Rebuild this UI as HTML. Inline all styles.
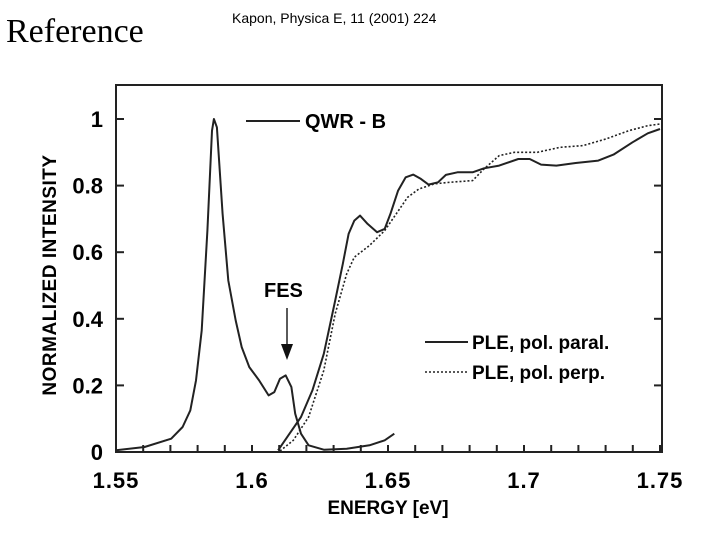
<!DOCTYPE html>
<html><head><meta charset="utf-8"><style>
body{margin:0;background:#fff;width:720px;height:540px;overflow:hidden}
</style></head><body>
<svg width="720" height="540" viewBox="0 0 720 540" xmlns="http://www.w3.org/2000/svg" font-family="Liberation Sans, sans-serif">
<text x="6" y="42" font-family="Liberation Serif, serif" font-size="34">Reference</text>
<text x="232" y="23" font-size="14">Kapon, Physica E, 11 (2001) 224</text>
<rect x="116" y="85" width="546" height="367" fill="none" stroke="#222" stroke-width="2"/>
<g id="ticks"></g>
<g id="series"></g>
<g><line x1="246" y1="121" x2="300" y2="121" stroke="#222" stroke-width="2"/><text x="305" y="128" font-size="20" font-weight="bold">QWR - B</text></g>
<g><text x="264" y="297" font-size="20" font-weight="bold">FES</text><line x1="287" y1="308" x2="287" y2="348" stroke="#222" stroke-width="1.5"/><polygon points="281,344 293,344 287,360" fill="#111"/></g>
<g><line x1="425" y1="342" x2="468" y2="342" stroke="#222" stroke-width="2"/><text x="472" y="349" font-size="19" font-weight="bold">PLE, pol. paral.</text></g>
<g><line x1="425" y1="372" x2="468" y2="372" stroke="#222" stroke-width="1.5" stroke-dasharray="2,2"/><text x="472" y="379" font-size="19" font-weight="bold">PLE, pol. perp.</text></g>
<text transform="translate(56,275) rotate(-90)" text-anchor="middle" font-size="19" font-weight="bold" letter-spacing="0.5">NORMALIZED INTENSITY</text>
<text x="388" y="514" text-anchor="middle" font-size="19" font-weight="bold">ENERGY [eV]</text>
<script>
const xTicks=[1.55,1.6,1.65,1.7,1.75];
const yTicks=[0,0.2,0.4,0.6,0.8,1];
const qwrE=[1.55,1.5605,1.5703,1.5745,1.5773,1.5794,1.5815,1.5836,1.5853,1.586,1.5871,1.5892,1.5913,1.594,1.5962,1.599,1.6026,1.6061,1.6082,1.6103,1.6124,1.6145,1.6159,1.618,1.6208,1.6264,1.6348,1.6432,1.6488,1.6523];
const qwrI=[0.005,0.015,0.04,0.075,0.125,0.215,0.365,0.665,0.965,1.0,0.975,0.715,0.515,0.395,0.315,0.255,0.215,0.17,0.18,0.22,0.23,0.195,0.115,0.055,0.02,0.007,0.01,0.02,0.035,0.055];
const paralE=[1.6096,1.6138,1.618,1.6222,1.6264,1.6306,1.6334,1.6355,1.6376,1.6397,1.6425,1.646,1.6488,1.6509,1.6537,1.6565,1.6593,1.6621,1.6649,1.6684,1.6713,1.6755,1.6811,1.6853,1.6909,1.6979,1.7021,1.7063,1.7119,1.719,1.7273,1.7329,1.7399,1.7455,1.75];
const paralI=[0.005,0.055,0.105,0.185,0.295,0.455,0.565,0.655,0.695,0.71,0.685,0.66,0.67,0.715,0.785,0.825,0.833,0.82,0.803,0.81,0.832,0.84,0.84,0.852,0.86,0.88,0.88,0.863,0.86,0.868,0.875,0.893,0.93,0.957,0.97];
const perpE=[1.6103,1.6152,1.6208,1.6264,1.6306,1.6348,1.6376,1.6432,1.6488,1.653,1.6572,1.6614,1.667,1.6726,1.6811,1.6853,1.6909,1.6965,1.7049,1.7133,1.7217,1.7301,1.7385,1.7455,1.75];
const perpI=[0.003,0.035,0.105,0.245,0.415,0.535,0.585,0.62,0.665,0.715,0.765,0.79,0.805,0.81,0.815,0.85,0.89,0.9,0.9,0.915,0.92,0.94,0.965,0.98,0.985];
const X=e=>116+(e-1.55)/0.2*544;
const Y=v=>452-v*333;
const NS='http://www.w3.org/2000/svg';
const tg=document.getElementById('ticks');
function mk(tag,attrs,parent){const el=document.createElementNS(NS,tag);for(const k in attrs)el.setAttribute(k,attrs[k]);parent.appendChild(el);return el;}
for(let i=0;i<=20;i++){const e=1.55+i*0.01;const x=X(e);
 const t=mk('line',{x1:x,y1:452,x2:x,y2:445,stroke:'#222','stroke-width':2},tg);
 
 }
xTicks.forEach(v=>{const t=mk('text',{x:X(v),y:488,'text-anchor':'middle','font-size':22,'font-weight':'bold','letter-spacing':1},tg);t.textContent=String(v);
 
 });
yTicks.forEach(v=>{const y=Y(v);
 const a=mk('line',{x1:116,y1:y,x2:124,y2:y,stroke:'#222','stroke-width':2},tg);
 
 
 const b=mk('line',{x1:654,y1:y,x2:662,y2:y,stroke:'#222','stroke-width':2},tg);
 
 
 const t=mk('text',{x:103,y:y+8,'text-anchor':'end','font-size':22,'font-weight':'bold'},tg);t.textContent=String(v);
 
 });
const sg=document.getElementById('series');
function line(E,I,dash,name){const pts=E.map((e,i)=>X(e).toFixed(1)+','+Y(I[i]).toFixed(1)).join(' ');
 const p=mk('polyline',{points:pts,fill:'none',stroke:'#222','stroke-width':dash?1.6:2,'stroke-linejoin':'round'},sg);
 if(dash)p.setAttribute('stroke-dasharray','2,2');
 
 }
line(qwrE,qwrI,false,'qwr-pl-line');
line(perpE,perpI,true,'ple-perp-line');
line(paralE,paralI,false,'ple-paral-line');
</script>
</svg>
</body></html>
